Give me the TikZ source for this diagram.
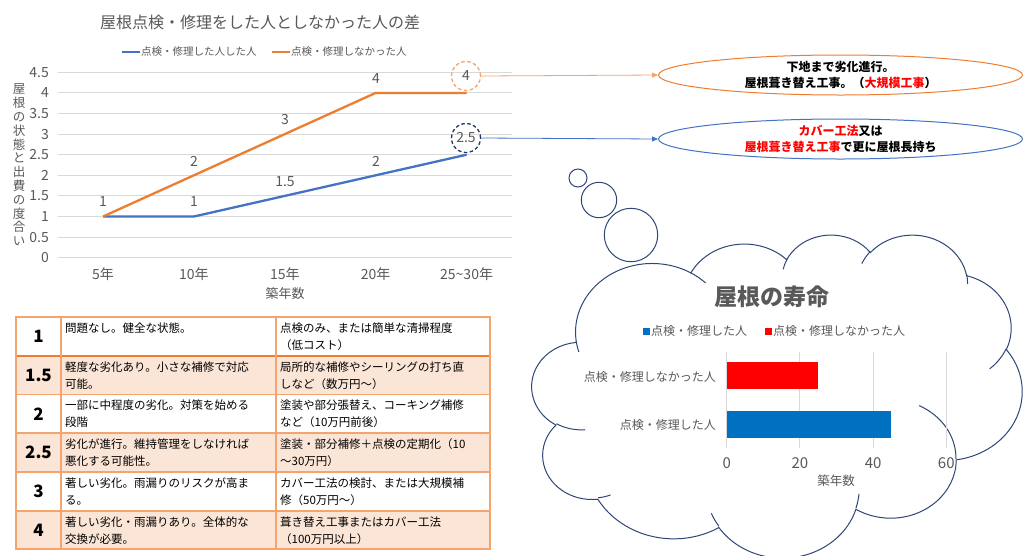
\documentclass[tikz,border=0pt]{standalone}
\usepackage{fontspec}
\setmainfont{Noto Sans CJK JP}
\usetikzlibrary{shapes.geometric,arrows.meta}
\definecolor{txtgray}{HTML}{595959}
\definecolor{gridc}{HTML}{D9D9D9}
\definecolor{lorange}{HTML}{ED7D31}
\definecolor{lblue}{HTML}{4472C4}
\definecolor{corange}{HTML}{F4A46E}
\definecolor{cnavy}{HTML}{203864}
\definecolor{tborder}{HTML}{F4A46E}
\definecolor{tshade}{HTML}{FBE5D6}
\definecolor{cloudc}{HTML}{2F4677}
\definecolor{bblue}{HTML}{0070C0}
\definecolor{bred}{HTML}{FF0000}
\newcommand\fsz[1]{\fontsize{#1}{#1}\selectfont}
\newcommand\cloudarc[4]{%
  \pgfextra{%
    \pgfmathparse{atan2((#1)*sin(#3),(#2)*cos(#3))}\global\let\cats\pgfmathresult
    \pgfmathparse{atan2((#1)*sin((#3)+(#4)),(#2)*cos((#3)+(#4)))}\global\let\cate\pgfmathresult
    \pgfmathparse{mod((\cate)-(\cats)+720,360)}\global\let\catd\pgfmathresult
  }%
  arc[start angle=\cats, delta angle=\catd, x radius=#1, y radius=#2]}
\newcommand\trow[8]{%
  \node[tnum] (#1n) at (38.5,{(#2+#3)/2}) {#4};
  \node[tcell] (#1a) at (65,#2+15) {#5};
  \node[tcell] (#1b) at (65,#2+32) {#6};
  \node[tcell] (#1c) at (280,#2+15) {#7};
  \node[tcell] (#1d) at (280,#2+32) {#8};
}
\tikzset{
  gridl/.style={draw=gridc, line width=0.9pt},
  ticklab/.style={text=txtgray, font=\fsz{14}, inner sep=0},
  dlab/.style={text=txtgray, font=\fsz{14}, inner sep=0},
  oline/.style={draw=lorange, line width=2.3pt, line join=round},
  bline/.style={draw=lblue, line width=2.3pt, line join=round},
  tcell/.style={anchor=base west, inner sep=0, font=\fsz{11.5}},
  tnum/.style={inner sep=0, font=\bfseries\fsz{17}},
  tline/.style={draw=tborder, line width=1.3pt},
  cloudline/.style={draw=cloudc, line width=1pt, fill=white},
  bubble/.style={circle, draw=cloudc, line width=1pt, fill=white, inner sep=0},
  calltext/.style={align=center, inner sep=0, font=\bfseries\fontsize{12}{15.5}\selectfont},
}
\begin{document}
\begin{tikzpicture}[x=1pt,y=-1pt]
\useasboundingbox (0,0) rectangle (1024,555);
\fill[white] (0,0) rectangle (1024,555);

% ---------- line chart ----------
\node[text=txtgray, font=\fsz{16}, inner sep=0] (ltitle) at (260,22) {屋根点検・修理をした人としなかった人の差};
\coordinate (lgb1) at (122,52); \coordinate (lgb2) at (140,52);
\draw[bline] (lgb1) -- (lgb2);
\node[anchor=west, text=txtgray, font=\fsz{10.5}, inner sep=0] (lgbt) at (141,52) {点検・修理した人した人};
\coordinate (lgo1) at (272,52); \coordinate (lgo2) at (290,52);
\draw[oline] (lgo1) -- (lgo2);
\node[anchor=west, text=txtgray, font=\fsz{10.5}, inner sep=0] (lgot) at (291,52) {点検・修理しなかった人};

\foreach \v/\l in {0/0,0.5/0.5,1/1,1.5/1.5,2/2,2.5/2.5,3/3,3.5/3.5,4/4,4.5/4.5}{
  \draw[gridl] (58,{257.7-41.2*\v}) -- (512,{257.7-41.2*\v});
  \node[ticklab, anchor=east] (yt\l) at (49,{257.7-41.2*\v}) {\l};
}
\foreach \i/\l in {0/5年,1/10年,2/15年,3/20年,4/25\symbol{126}30年}{
  \node[ticklab] (xt\i) at ({103+90.9*\i},274) {\l};
}
\node[text=txtgray, font=\fsz{13}, inner sep=0] (xtitle) at (285,294) {築年数};
\node[text=txtgray, font=\fontsize{12.5}{13.8}\selectfont, align=center, inner sep=0] (ytitle) at (19,165)
  {屋\\根\\の\\状\\態\\と\\出\\費\\の\\度\\合\\い};

\coordinate (b1) at (103,216.5); \coordinate (b2) at (193.9,216.5); \coordinate (b3) at (284.8,195.9);
\coordinate (b4) at (375.7,175.3); \coordinate (b5) at (466.6,154.7);
\coordinate (o1) at (103,216.5); \coordinate (o2) at (193.9,175.3); \coordinate (o3) at (284.8,134.1);
\coordinate (o4) at (375.7,92.9); \coordinate (o5) at (466.6,92.9);
\draw[bline] (b1) -- (b2) -- (b3) -- (b4) -- (b5);
\draw[oline] (o1) -- (o2) -- (o3) -- (o4) -- (o5);

\node[dlab] (do1) at (103,202) {1};
\node[dlab] (do2) at (194,161) {2};
\node[dlab] (do3) at (285,119.5) {3};
\node[dlab] (do4) at (376,78.5) {4};
\node[dlab] (db2) at (194,202) {1};
\node[dlab] (db3) at (285,181.5) {1.5};
\node[dlab] (db4) at (376,161) {2};

\node[circle, draw=corange, dash pattern=on 3.5pt off 2.5pt, line width=1.3pt, minimum size=29pt, inner sep=0,
  text=txtgray, font=\fsz{14}] (c4) at (466,76) {4};
\node[circle, draw=cnavy, dash pattern=on 3.5pt off 2.5pt, line width=1.3pt, minimum size=29pt, inner sep=0,
  text=txtgray, font=\fsz{14}] (c25) at (466,138) {2.5};

% ---------- callouts ----------
\node[ellipse, draw=lorange, line width=1pt, minimum width=364pt, minimum height=40pt, inner sep=0] (e1) at (840.5,75) {};
\node[calltext] (e1t) at (e1.center) {下地まで劣化進行。\\屋根葺き替え工事。（\textcolor{bred}{大規模工事}）};
\node[ellipse, draw=lblue, line width=1pt, minimum width=364pt, minimum height=40pt, inner sep=0] (e2) at (840.5,139) {};
\node[calltext] (e2t) at (e2.center) {\textcolor{bred}{カバー工法}又は\\\textcolor{bred}{屋根葺き替え工事}で更に屋根長持ち};
\draw[draw=corange, line width=0.8pt, -{Triangle[length=6pt,width=5pt]}] (c4.east) -- (e1.west);
\draw[draw=lblue, line width=0.8pt, -{Triangle[length=6pt,width=5pt]}] (c25.east) -- (e2.west);

% ---------- table ----------
\fill[tshade] (16,356) rectangle (490,394.5);
\fill[tshade] (16,433) rectangle (490,472);
\fill[tshade] (16,511) rectangle (490,549);
\foreach \y in {394.5,433,472,511}{ \draw[tline] (16,\y) -- (490,\y); }
\draw[draw=lorange, line width=2pt] (16,356) -- (490,356);
\draw[tline] (61,317) -- (61,549);
\draw[tline] (276,317) -- (276,549);
\draw[tline] (16,317) rectangle (490,549);
\trow{r1}{317}{356}{1}{問題なし。健全な状態。}{}{点検のみ、または簡単な清掃程度}{（低コスト）}
\trow{r2}{356}{394.5}{1.5}{軽度な劣化あり。小さな補修で対応}{可能。}{局所的な補修やシーリングの打ち直}{しなど（数万円～）}
\trow{r3}{394.5}{433}{2}{一部に中程度の劣化。対策を始める}{段階}{塗装や部分張替え、コーキング補修}{など（10万円前後）}
\trow{r4}{433}{472}{2.5}{劣化が進行。維持管理をしなければ}{悪化する可能性。}{塗装・部分補修＋点検の定期化（10}{～30万円）}
\trow{r5}{472}{511}{3}{著しい劣化。雨漏りのリスクが高ま}{る。}{カバー工法の検討、または大規模補}{修（50万円～）}
\trow{r6}{511}{549}{4}{著しい劣化・雨漏りあり。全体的な}{交換が必要。}{葺き替え工事またはカバー工法}{（100万円以上）}

% ---------- thought bubble ----------
\node[bubble, minimum size=18pt] (bub1) at (578,178) {};
\node[bubble, minimum size=35.4pt] (bub2) at (599,200) {};
\node[bubble, minimum size=53.4pt] (bub3) at (631,235) {};
\begin{scope}[shift={(532,234)},x=1.13426pt,y=-0.74769pt]
\filldraw[cloudline] (39.00,143.70)
 \cloudarc{67.53}{91.90}{-190.4875}{123.7805}
 \cloudarc{53.33}{72.67}{-144.1024}{89.9452}
 \cloudarc{43.65}{59.45}{-145.8079}{99.7230}
 \cloudarc{48.57}{65.95}{-130.9861}{117.2417}
 \cloudarc{53.33}{72.73}{-78.7089}{109.0269}
 \cloudarc{67.75}{92.20}{-46.2673}{130.2690}
 \cloudarc{57.85}{78.67}{0.6250}{114.0333}
 \cloudarc{67.52}{92.15}{22.4516}{115.1726}
 \cloudarc{77.20}{105.43}{66.2426}{75.7110}
 \cloudarc{43.60}{59.18}{-274.9421}{146.7356}
 \cloudarc{43.45}{59.45}{-246.8285}{152.5189}
 -- cycle;
\draw[cloudline, fill=none]
 (46.93,261.77) \cloudarc{43.45}{59.45}{86.7420}{26.4295}
 (69.28,348.99) \cloudarc{43.60}{59.18}{73.6105}{11.4475}
 (164.78,390.90) \cloudarc{67.52}{92.15}{137.6242}{14.0811}
 (288.27,347.51) \cloudarc{67.52}{92.15}{6.4533}{15.9984}
 (341.29,229.54) \cloudarc{57.85}{78.67}{-70.2924}{70.9174}
 (417.98,153.54) \cloudarc{53.33}{72.73}{30.3180}{27.7515}
 (383.24,54.26) \cloudarc{48.57}{65.95}{-13.7443}{14.8589}
 (290.78,39.52) \cloudarc{48.57}{65.95}{-149.1815}{18.1954}
 (221.41,47.20) \cloudarc{43.65}{59.45}{-163.4943}{17.6864}
 (140.00,51.92) \cloudarc{67.53}{91.90}{-66.7070}{12.3194}
 (41.27,157.89) \cloudarc{67.53}{91.90}{157.6544}{11.8582};
\end{scope}

% ---------- bar chart ----------
\node[text=txtgray, font=\bfseries\fsz{23}, inner sep=0] (btitle) at (772,297) {屋根の寿命};
\node[fill=bblue, minimum size=7pt, inner sep=0] (blgb) at (646,331) {};
\node[anchor=west, text=txtgray, font=\fsz{12}, inner sep=0] (blgbt) at (651,331) {点検・修理した人};
\node[fill=bred, minimum size=7pt, inner sep=0] (blgr) at (768,331) {};
\node[anchor=west, text=txtgray, font=\fsz{12}, inner sep=0] (blgrt) at (773,331) {点検・修理しなかった人};
\foreach \v in {0,20,40,60}{
  \draw[gridl] ({726.7+3.66*\v},352) -- ({726.7+3.66*\v},448);
  \node[text=txtgray, font=\fsz{15}, inner sep=0] (bx\v) at ({726.7+3.66*\v},463) {\v};
}
\fill[bred] (726.7,361.7) rectangle (818.2,389.3);
\fill[bblue] (726.7,410.7) rectangle (891.4,437.7);
\node[anchor=east, text=txtgray, font=\fsz{12}, inner sep=0] (bc1) at (716,376.5) {点検・修理しなかった人};
\node[anchor=east, text=txtgray, font=\fsz{12}, inner sep=0] (bc2) at (716,425) {点検・修理した人};
\node[text=txtgray, font=\fsz{12.5}, inner sep=0] (bxt) at (836,481) {築年数};
\end{tikzpicture}
\end{document}
